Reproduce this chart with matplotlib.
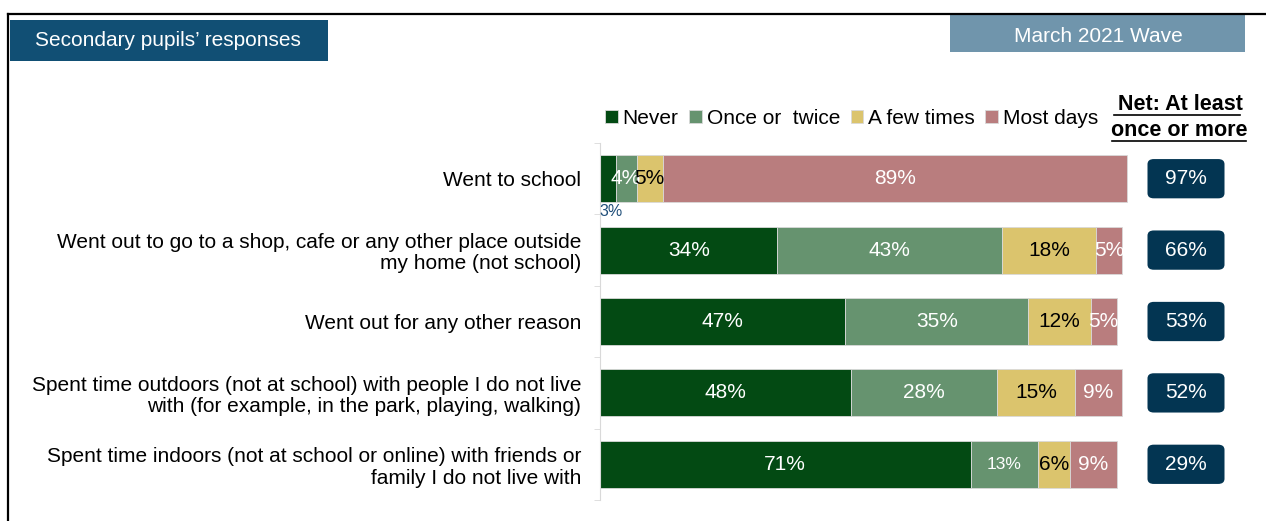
import numpy as np
import matplotlib.pyplot as plt
from matplotlib.patches import FancyBboxPatch, Rectangle
from matplotlib.lines import Line2D

plt.rcParams['font.family'] = ['Liberation Sans', 'DejaVu Sans']

categories = [
    "Went to school",
    "Went out to go to a shop, cafe or any other place outside\nmy home (not school)",
    "Went out for any other reason",
    "Spent time outdoors (not at school) with people I do not live\nwith (for example, in the park, playing, walking)",
    "Spent time indoors (not at school or online) with friends or\nfamily I do not live with",
]
series = ["Never", "Once or  twice", "A few times", "Most days"]
never = [3, 34, 47, 48, 71]
once = [4, 43, 35, 28, 13]
few = [5, 18, 12, 15, 6]
most = [89, 5, 5, 9, 9]
net = [97, 66, 53, 52, 29]

colors = ["#034a13", "#66936f", "#dbc46d", "#b97d7e"]
text_colors = ["white", "white", "black", "white"]
navy = "#033552"
W, H = 1266, 521

fig = plt.figure(figsize=(12.66, 5.21), dpi=100)

# outer frame lines (top and left)
fig.add_artist(Line2D([8 / W, 1], [1 - 14 / H, 1 - 14 / H], color="black", lw=1.6))
fig.add_artist(Line2D([8 / W, 8 / W], [0, 1 - 14 / H], color="black", lw=1.6))

# header boxes
fig.add_artist(Rectangle((10 / W, 1 - 61 / H), 318 / W, 41 / H,
                         transform=fig.transFigure, color="#114f74", lw=0))
fig.text(35 / W, 1 - 41 / H, "Secondary pupils\u2019 responses", color="white",
         fontsize=15, va="center", ha="left")
fig.add_artist(Rectangle((950 / W, 1 - 52 / H), 295 / W, 37 / H,
                         transform=fig.transFigure, color="#7095ac", lw=0))
fig.text(1098 / W, 1 - 36 / H, "March 2021 Wave", color="white",
         fontsize=15, va="center", ha="center")

ax = fig.add_axes([600 / W, 21 / H, 666 / W, 357 / H])
scale = 5.22  # px per percent
ax.set_xlim(0, 666 / scale)
ax.set_ylim(4.5, -0.5)

data = np.array([never, once, few, most], dtype=float)
y = np.arange(len(categories))
left = np.zeros(len(categories))
for i, name in enumerate(series):
    ax.barh(y, data[i], left=left, height=0.66, color=colors[i], label=name,
            edgecolor="#d9d9d9", linewidth=0.6)
    for j in range(len(categories)):
        v = data[i][j]
        cx = left[j] + v / 2
        if i == 0 and j == 0:
            ax.text(left[j] - 0.1, j + 0.46, f"{int(v)}%", color="#1f4e79",
                    fontsize=11.5, ha="left", va="center")
            continue
        fs = 12.5 if (i == 1 and j == 4) else 15
        ax.text(cx, j, f"{int(v)}%", color=text_colors[i], fontsize=fs,
                ha="center", va="center")
    left += data[i]

# net boxes
net_x = (1186 - 600) / scale
for j, v in enumerate(net):
    w = 77 / scale
    box = FancyBboxPatch((net_x - w / 2, j - 0.275), w, 0.55,
                         boxstyle="round,pad=0,rounding_size=1.2",
                         mutation_aspect=0.06, color=navy, lw=0)
    ax.add_patch(box)
    ax.text(net_x, j, f"{v}%", color="white", fontsize=15, ha="center", va="center")

ax.set_yticks(y)
ax.set_yticklabels(categories, fontsize=15, linespacing=1.15)
ax.set_yticks(np.arange(-0.5, 5, 1), minor=True)
ax.tick_params(axis="y", which="major", length=0, pad=13.5)
ax.tick_params(axis="y", which="minor", length=4, color="#d9d9d9", direction="out")
ax.set_xticks([])
for s in ["top", "right", "bottom"]:
    ax.spines[s].set_visible(False)
ax.spines["left"].set_color("#d9d9d9")

leg = fig.legend(loc="center left", bbox_to_anchor=(605 / W, 1 - 118 / H), ncol=4,
                 frameon=False, fontsize=15, handlelength=0.6, handleheight=0.6,
                 handletextpad=0.25, columnspacing=0.5, borderaxespad=0, borderpad=0)

fig.text(1180 / W, 1 - 104 / H, "Net: At least", fontsize=15.5, fontweight="bold",
         ha="center", va="center")
fig.text(1179 / W, 1 - 130 / H, "once or more", fontsize=15.5, fontweight="bold",
         ha="center", va="center")
fig.add_artist(Line2D([1114 / W, 1240 / W], [1 - 115 / H, 1 - 115 / H], color="black", lw=1.2))
fig.add_artist(Line2D([1112 / W, 1246 / W], [1 - 141 / H, 1 - 141 / H], color="black", lw=1.2))

fig.savefig("out.png", dpi=100)
